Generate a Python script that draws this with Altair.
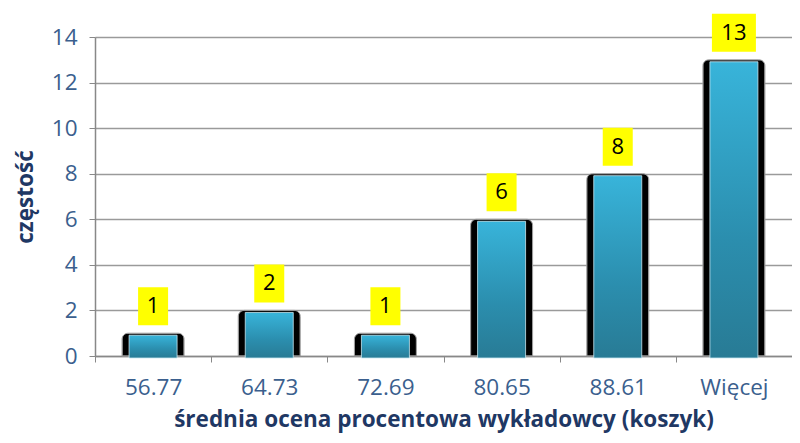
import altair as alt
import pandas as pd

categories = ["56.77", "64.73", "72.69", "80.65", "88.61", "Więcej"]
counts = [1, 2, 1, 6, 8, 13]

df = pd.DataFrame({"kat": categories, "n": counts})
df["lab"] = df["n"].astype(str)
df["boxw"] = df["lab"].str.len() * 14 + 16

label_color = "#3b5f8e"
title_color = "#1f3864"
font = "Open Sans"

x_enc = alt.X(
    "kat:N",
    sort=categories,
    scale=alt.Scale(paddingInner=0, paddingOuter=0),
    axis=alt.Axis(
        title="średnia ocena procentowa wykładowcy (koszyk)",
        labelAngle=0,
        labelFontSize=22.5,
        labelColor=label_color,
        labelFont=font,
        labelPadding=14,
        tickBand="extent",
        tickSize=6,
        tickColor="#888888",
        domainColor="#888888",
        domainWidth=1.5,
        titleFontSize=22.5,
        titleFont=font,
        titleFontWeight="bold",
        titleColor=title_color,
        titlePadding=10,
        grid=False,
    ),
)

y_scale = alt.Scale(domain=[0, 14], nice=False)
y_axis = alt.Axis(
    title="częstość",
    values=[0, 2, 4, 6, 8, 10, 12, 14],
    labelFontSize=22.5,
    labelColor=label_color,
    labelFont=font,
    labelPadding=12,
    tickSize=6,
    tickColor="#888888",
    domainColor="#888888",
    domainWidth=1.5,
    gridColor="#9a9a9a",
    gridWidth=1.5,
    titleFontSize=22.5,
    titleFont=font,
    titleFontWeight="bold",
    titleColor=title_color,
    titlePadding=14,
)

base = alt.Chart(df)

black = base.mark_bar(
    color="#000000", width=62, cornerRadiusTopLeft=6, cornerRadiusTopRight=6,
    stroke="#999999", strokeWidth=1
).encode(x=x_enc, y=alt.Y("n:Q", scale=y_scale, axis=y_axis))

blue = base.mark_bar(
    width=48,
    yOffset=2,
    color=alt.Gradient(
        gradient="linear",
        stops=[alt.GradientStop(color="#38b4da", offset=0),
               alt.GradientStop(color="#2b8eae", offset=0.6),
               alt.GradientStop(color="#287b95", offset=1)],
        x1=0, x2=0, y1=0, y2=1,
    ),
    stroke="#c8e8f2",
    strokeWidth=0.8,
).encode(x=alt.X("kat:N", sort=categories), y=alt.Y("n:Q"))

boxes = base.mark_bar(
    color="#ffff00", yOffset=-46, y2Offset=-8
).encode(
    x=alt.X("kat:N", sort=categories),
    y=alt.Y("n:Q"),
    y2=alt.Y2("n:Q"),
    size=alt.Size("boxw:Q", scale=None, legend=None),
)

texts = base.mark_text(
    fontSize=22, font=font, color="#000000", dy=-27, baseline="middle"
).encode(x=alt.X("kat:N", sort=categories), y=alt.Y("n:Q"), text="lab:N")

chart = (
    alt.layer(black, blue, boxes, texts)
    .properties(
        width=697,
        height=319,
        autosize=alt.AutoSizeParams(type="none"),
        padding={"left": 87, "top": 29, "right": 0, "bottom": 79},
    )
    .configure_view(stroke=None)
)

chart.save("out.html", embed_options={"renderer": "svg", "actions": False})
